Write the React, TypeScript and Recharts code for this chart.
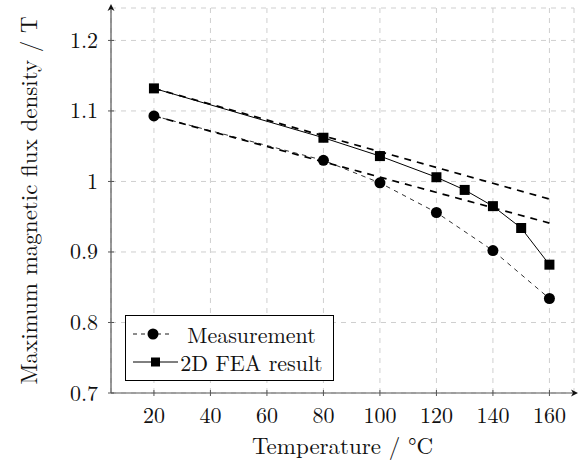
import React from 'react';
import { ComposedChart, Line, XAxis, YAxis, CartesianGrid, Legend, ReferenceDot } from 'recharts';

const measurementTemps = [20, 80, 100, 120, 140, 160];
const measurementValues = [1.093, 1.03, 0.998, 0.956, 0.902, 0.834];
const feaTemps = [20, 80, 100, 120, 130, 140, 150, 160];
const feaValues = [1.132, 1.062, 1.036, 1.006, 0.988, 0.965, 0.934, 0.882];
const fitTemps = [20, 160];
const feaFitValues = [1.132, 0.975];
const measurementFitValues = [1.093, 0.941];
const xTicks = [20, 40, 60, 80, 100, 120, 140, 160];
const yTicks = [0.7, 0.8, 0.9, 1, 1.1, 1.2];
const xDomain = [4.8, 168.7];
const yDomain = [0.7, 1.246];
const xLabel = 'Temperature / °C';
const yLabel = 'Maximum magnetic flux density / T';
const seriesNames = ['Measurement', '2D FEA result'];

const measurementData = measurementTemps.map((t, i) => ({ t, v: measurementValues[i] }));
const feaData = feaTemps.map((t, i) => ({ t, v: feaValues[i] }));
const feaFitData = fitTemps.map((t, i) => ({ t, v: feaFitValues[i] }));
const measurementFitData = fitTemps.map((t, i) => ({ t, v: measurementFitValues[i] }));

const FONT = '"Latin Modern Roman", "Liberation Serif", serif';
const AXIS = '#555';

const XTick = (props: any) => {
  const { x, y, payload } = props;
  return (
    <g>
      <line x1={x} x2={x} y1={y - 3} y2={y + 3} stroke={AXIS} strokeWidth={1} />
      <text x={x} y={y + 30} textAnchor="middle" fontSize={22} fontFamily={FONT} fill="#111">
        {payload.value}
      </text>
    </g>
  );
};

const YTick = (props: any) => {
  const { x, y, payload } = props;
  return (
    <g>
      <line x1={x - 3} x2={x + 3} y1={y} y2={y} stroke={AXIS} strokeWidth={1} />
      <text x={x - 13} y={y + 7.5} textAnchor="end" fontSize={22} fontFamily={FONT} fill="#111">
        {payload.value}
      </text>
    </g>
  );
};

const Square = (props: any) => {
  const { cx, cy, index } = props;
  if (cx == null || cy == null) return <g key={`sq-${index}`} />;
  return <rect key={`sq-${index}`} x={cx - 5} y={cy - 5} width={10} height={10} fill="#000" />;
};

const XArrow = (props: any) => {
  const { cx, cy } = props;
  return <path d={`M${cx + 4},${cy} L${cx - 3},${cy - 3.5} L${cx - 1},${cy} L${cx - 3},${cy + 3.5} Z`} fill="#111" />;
};
const YArrow = (props: any) => {
  const { cx, cy } = props;
  return <path d={`M${cx},${cy - 4} L${cx - 3.5},${cy + 3} L${cx},${cy + 1} L${cx + 3.5},${cy + 3} Z`} fill="#111" />;
};

const LegendContent = () => (
  <div
    style={{
      border: '1px solid #000',
      background: '#fff',
      width: 207,
      height: 64,
      boxSizing: 'content-box',
      fontFamily: FONT,
      fontSize: 22,
      color: '#111',
      lineHeight: 1,
    }}
  >
    <div style={{ display: 'flex', alignItems: 'center', height: 28, marginTop: 4 }}>
      <svg width={48} height={20} style={{ marginLeft: 6 }}>
        <line x1={1} x2={40} y1={10} y2={10} stroke="#000" strokeWidth={0.9} strokeDasharray="4 4" />
        <circle cx={21} cy={10} r={5.5} fill="#000" />
      </svg>
      <div style={{ flex: 1, textAlign: 'center', marginRight: 10 }}>{seriesNames[0]}</div>
    </div>
    <div style={{ display: 'flex', alignItems: 'center', height: 28 }}>
      <svg width={48} height={20} style={{ marginLeft: 6 }}>
        <line x1={1} x2={46} y1={10} y2={10} stroke="#000" strokeWidth={1} />
        <rect x={19} y={5.5} width={9} height={9} fill="#000" />
      </svg>
      <div style={{ flex: 1, textAlign: 'center', marginRight: 10 }}>{seriesNames[1]}</div>
    </div>
  </div>
);

export default function App() {
  return (
    <div style={{ position: 'absolute', left: 0, top: 0, width: 586, height: 462, background: '#fff', fontFamily: FONT }}>
      <ComposedChart width={586} height={462} margin={{ top: 8, right: 12, left: 0, bottom: 0 }}>
        <CartesianGrid stroke="#cfcfcf" strokeDasharray="5 5" strokeWidth={1} />
        <XAxis
          dataKey="t"
          type="number"
          domain={xDomain}
          ticks={xTicks}
          allowDataOverflow
          height={69}
          axisLine={{ stroke: AXIS, strokeWidth: 1.2 }}
          tickLine={false}
          tickSize={0}
          tickMargin={0}
          tick={<XTick />}
          label={({ viewBox }: any) => (
            <text
              x={viewBox.x + viewBox.width / 2}
              y={viewBox.y + 61}
              textAnchor="middle"
              fontSize={23}
              fontFamily={FONT}
              fill="#111"
            >
              {xLabel}
            </text>
          )}
        />
        <YAxis
          type="number"
          domain={yDomain}
          ticks={yTicks}
          allowDataOverflow
          width={111}
          axisLine={{ stroke: AXIS, strokeWidth: 1.2 }}
          tickLine={false}
          tickSize={0}
          tickMargin={0}
          tick={<YTick />}
          label={({ viewBox }: any) => {
            const cy = viewBox.y + viewBox.height / 2;
            return (
              <text
                x={37}
                y={cy}
                transform={`rotate(-90, 37, ${cy})`}
                textAnchor="middle"
                fontSize={23}
                fontFamily={FONT}
                fill="#111"
              >
                {yLabel}
              </text>
            );
          }}
        />
        <Line
          data={feaFitData}
          dataKey="v"
          name="fea-fit"
          stroke="#000"
          strokeWidth={1.7}
          strokeDasharray="7 6"
          dot={false}
          legendType="none"
          isAnimationActive={false}
        />
        <Line
          data={measurementFitData}
          dataKey="v"
          name="measurement-fit"
          stroke="#000"
          strokeWidth={1.7}
          strokeDasharray="7 6"
          dot={false}
          legendType="none"
          isAnimationActive={false}
        />
        <Line
          data={measurementData}
          dataKey="v"
          name={seriesNames[0]}
          stroke="#000"
          strokeWidth={0.8}
          strokeDasharray="4.5 4.5"
          dot={{ r: 5.5, fill: '#000', stroke: 'none', strokeDasharray: '0' }}
          isAnimationActive={false}
        />
        <Line
          data={feaData}
          dataKey="v"
          name={seriesNames[1]}
          stroke="#000"
          strokeWidth={1}
          dot={<Square />}
          isAnimationActive={false}
        />
        <ReferenceDot x={xDomain[1]} y={yDomain[0]} ifOverflow="visible" shape={<XArrow />} />
        <ReferenceDot x={xDomain[0]} y={yDomain[1]} ifOverflow="visible" shape={<YArrow />} />
        <Legend
          layout="vertical"
          align="center"
          verticalAlign="middle"
          content={<LegendContent />}
          wrapperStyle={{ left: 125, top: 315, width: 209, height: 66, right: 'auto', bottom: 'auto' }}
        />
      </ComposedChart>
    </div>
  );
}
